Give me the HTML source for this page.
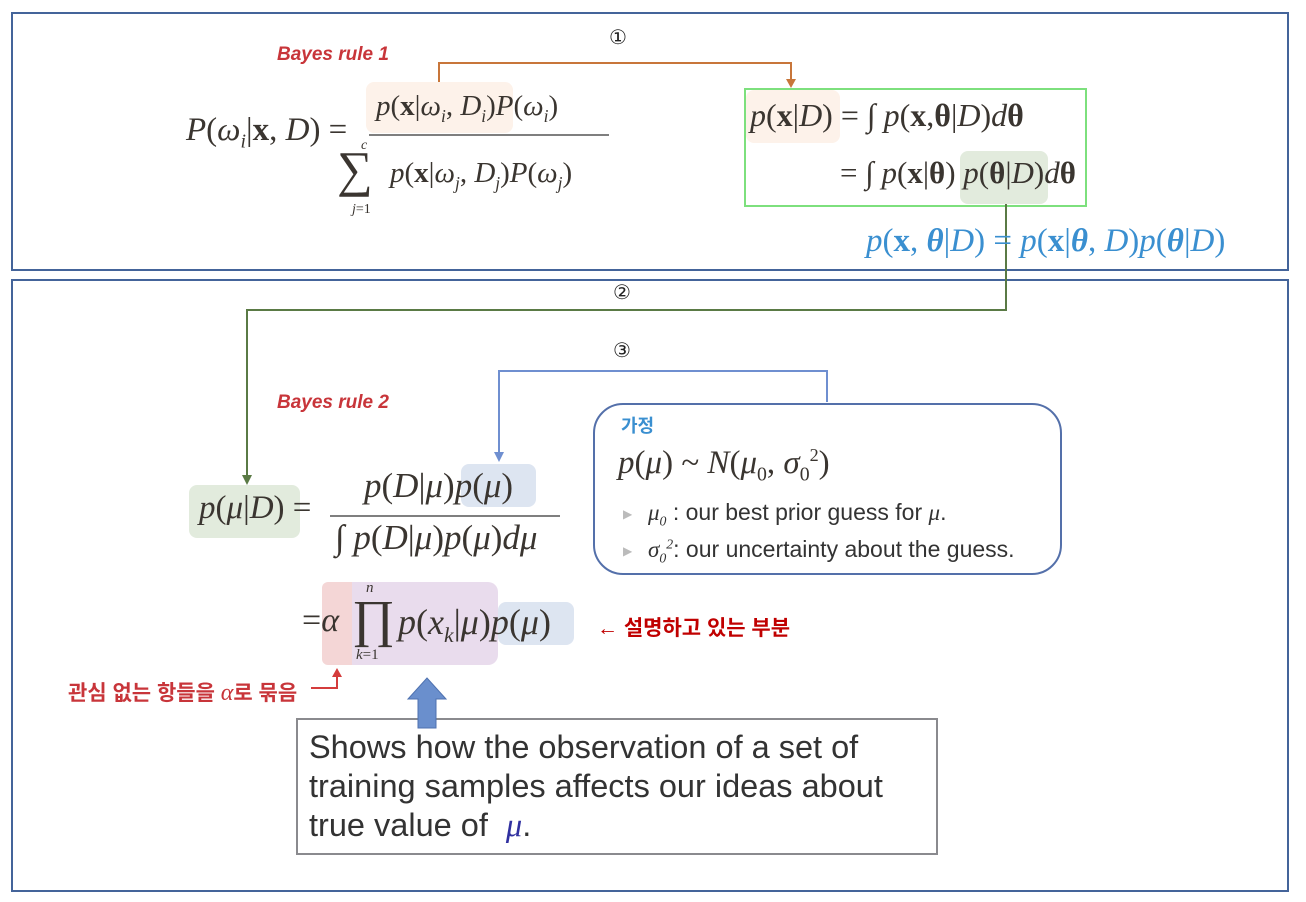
<!DOCTYPE html>
<html><head><meta charset="utf-8"><style>
body{margin:0;width:1306px;height:902px;background:#fff;position:relative;overflow:hidden;font-family:"Liberation Serif",serif;color:#333}
.a{position:absolute;white-space:nowrap}
.m{font-family:"Liberation Serif",serif;font-size:28px;color:#3a3530}
i{font-style:italic}
b{font-weight:bold}
.hl{position:absolute;border-radius:8px}
.red{font-family:"Liberation Sans","Noto Sans CJK KR",sans-serif;font-weight:bold;font-style:italic;color:#c8353a;font-size:19px}
.kr{font-family:"Liberation Sans","Noto Sans CJK KR",sans-serif;font-weight:bold;font-size:18px}
.circ{font-family:"DejaVu Sans",sans-serif;font-size:20px;color:#222}
sub,sup{font-size:60%}
</style></head><body>
<div class="a" style="left:11px;top:12px;width:1274px;height:255px;border:2px solid #44649a"></div>
<div class="a" style="left:11px;top:279px;width:1274px;height:609px;border:2px solid #44649a"></div>

<!-- highlights -->
<div class="hl" style="left:366px;top:82px;width:147px;height:51px;background:#fdf2ea"></div>
<div class="hl" style="left:746px;top:90px;width:94px;height:53px;background:#fdf2ea"></div>
<div class="hl" style="left:960px;top:151px;width:88px;height:53px;background:#e2ebdd"></div>
<div class="hl" style="left:189px;top:485px;width:111px;height:53px;background:#e2ebdd"></div>
<div class="hl" style="left:461px;top:464px;width:75px;height:43px;background:#dde5f1"></div>
<div class="hl" style="left:322px;top:582px;width:30px;height:83px;background:#f4d6d6;border-radius:6px 0 0 6px"></div>
<div class="hl" style="left:352px;top:582px;width:146px;height:83px;background:#e9dced;border-radius:0 10px 10px 0"></div>
<div class="hl" style="left:498px;top:602px;width:76px;height:43px;background:#dde5f1"></div>

<div class="a" style="left:744px;top:88px;width:339px;height:115px;border:2px solid #7de07d"></div>
<div class="a" style="left:593px;top:403px;width:465px;height:168px;border:2px solid #5470aa;border-radius:30px"></div>
<div class="a" style="left:296px;top:718px;width:638px;height:133px;border:2px solid #8a8a8e"></div>

<svg class="a" style="left:0;top:0" width="1306" height="902">
<polyline points="439,82 439,63 791,63 791,80" fill="none" stroke="#c8763a" stroke-width="2"/>
<polygon points="786,79 796,79 791,88" fill="#c8763a"/>
<polyline points="1006,204 1006,310 247,310 247,476" fill="none" stroke="#5a7a45" stroke-width="2"/>
<polygon points="242,475 252,475 247,485" fill="#5a7a45"/>
<polyline points="827,402 827,371 499,371 499,453" fill="none" stroke="#6f8fd0" stroke-width="2"/>
<polygon points="494,452 504,452 499,462" fill="#6f8fd0"/>
<polyline points="311,688 337,688 337,676" fill="none" stroke="#d43c3c" stroke-width="2"/>
<polygon points="332,677 342,677 337,668" fill="#d43c3c"/>
<polygon points="418,728 436,728 436,699 446,699 427,678 408,699 418,699" fill="#6a8fcd" stroke="#4f72b0" stroke-width="1"/>
<line x1="369" y1="135" x2="609" y2="135" stroke="#555" stroke-width="1.5"/>
<line x1="330" y1="516" x2="560" y2="516" stroke="#555" stroke-width="1.5"/>
</svg>

<div class="a circ" style="left:609px;top:25px">①</div>
<div class="a circ" style="left:613px;top:280px">②</div>
<div class="a circ" style="left:613px;top:338px">③</div>

<div class="a red" style="left:277px;top:44px">Bayes rule 1</div>
<div class="a red" style="left:277px;top:392px">Bayes rule 2</div>

<!-- Bayes rule 1 -->
<div class="a m" style="left:186px;top:112px;font-size:33px"><i>P</i>(<i>ω<sub>i</sub></i>|<b>x</b>, <i>D</i>) =</div>
<div class="a m" style="left:376px;top:90px;font-size:29px"><i>p</i>(<b>x</b>|<i>ω<sub>i</sub></i>, <i>D<sub>i</sub></i>)<i>P</i>(<i>ω<sub>i</sub></i>)</div>
<div class="a m" style="left:337px;top:140px;font-size:50px">∑</div>
<div class="a m" style="left:361px;top:138px;font-size:14px"><i>c</i></div>
<div class="a m" style="left:352px;top:202px;font-size:14px"><i>j</i>=1</div>
<div class="a m" style="left:390px;top:157px;font-size:29px"><i>p</i>(<b>x</b>|<i>ω<sub>j</sub></i>, <i>D<sub>j</sub></i>)<i>P</i>(<i>ω<sub>j</sub></i>)</div>

<!-- green box -->
<div class="a m" style="left:750px;top:97px;font-size:32px"><i>p</i>(<b>x</b>|<i>D</i>) = ∫ <i>p</i>(<b>x</b>,<b>θ</b>|<i>D</i>)<i>d</i><b>θ</b></div>
<div class="a m" style="left:840px;top:155px;font-size:31px">= ∫ <i>p</i>(<b>x</b>|<b>θ</b>) <i>p</i>(<b>θ</b>|<i>D</i>)<i>d</i><b>θ</b></div>

<div class="a m" style="left:866px;top:223px;color:#3a8fd0;font-size:33px"><i>p</i>(<b>x</b>, <b><i>θ</i></b>|<i>D</i>) = <i>p</i>(<b>x</b>|<b><i>θ</i></b>, <i>D</i>)<i>p</i>(<b><i>θ</i></b>|<i>D</i>)</div>

<!-- Bayes rule 2 -->
<div class="a m" style="left:199px;top:490px;font-size:33px"><i>p</i>(<i>μ</i>|<i>D</i>) =</div>
<div class="a m" style="left:364px;top:466px;font-size:35px"><i>p</i>(<i>D</i>|<i>μ</i>)<i>p</i>(<i>μ</i>)</div>
<div class="a m" style="left:335px;top:518px;font-size:35px">∫ <i>p</i>(<i>D</i>|<i>μ</i>)<i>p</i>(<i>μ</i>)<i>d</i><i>μ</i></div>
<div class="a m" style="left:302px;top:602px;font-size:34px">=<i>α</i></div>
<div class="a m" style="left:352px;top:590px;font-size:52px">∏</div>
<div class="a m" style="left:366px;top:580px;font-size:15px"><i>n</i></div>
<div class="a m" style="left:356px;top:647px;font-size:15px"><i>k</i>=1</div>
<div class="a m" style="left:398px;top:601px;font-size:36px"><i>p</i>(<i>x<sub>k</sub></i>|<i>μ</i>)<i>p</i>(<i>μ</i>)</div>

<div class="a kr" style="left:597px;top:612px;color:#c00000;font-size:21px">← 설명하고 있는 부분</div>
<div class="a kr" style="left:68px;top:677px;color:#c8353a;font-size:21px">관심 없는 항들을 <i style="font-family:'Liberation Serif',serif;font-size:24px;font-weight:normal">α</i>로 묶음</div>

<!-- 가정 box -->
<div class="a kr" style="left:621px;top:412px;color:#3a8fd0">가정</div>
<div class="a m" style="left:618px;top:445px;font-size:33px"><i>p</i>(<i>μ</i>) ~ <i>N</i>(<i>μ</i><sub>0</sub>, <i>σ</i><sub>0</sub><sup style="font-size:55%">2</sup>)</div>
<div class="a" style="left:623px;top:507px;color:#bbb;font-size:12px">▶</div>
<div class="a" style="left:623px;top:544px;color:#bbb;font-size:12px">▶</div>
<div class="a" style="left:648px;top:499px;font-family:'Liberation Sans',sans-serif;font-size:23px;color:#333"><i style="font-family:'Liberation Serif',serif">μ<sub>0</sub></i> : our best prior guess for <i style="font-family:'Liberation Serif',serif">μ</i>.</div>
<div class="a" style="left:648px;top:536px;font-family:'Liberation Sans',sans-serif;font-size:23px;color:#333"><i style="font-family:'Liberation Serif',serif">σ<sub>0</sub><sup>2</sup></i>: our uncertainty about the guess.</div>

<div class="a" style="left:309px;top:728px;font-family:'Liberation Sans',sans-serif;font-size:32.5px;line-height:39px;color:#333">Shows how the observation of a set of<br>training samples affects our ideas about<br>true value of &nbsp;<i style="font-family:'Liberation Serif',serif;color:#3030a0">μ</i>.</div>
</body></html>
